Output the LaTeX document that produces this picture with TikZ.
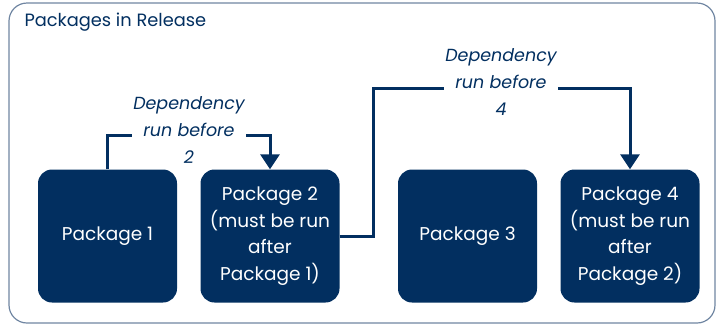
\documentclass[tikz,border=0pt]{standalone}
\usepackage{fontspec}
\setmainfont{Poppins}
\usetikzlibrary{arrows.meta}
\definecolor{hpnavy}{RGB}{2,47,96}
\definecolor{framegray}{RGB}{112,134,162}

\begin{document}
\begin{tikzpicture}[x=1pt,y=-1pt,
  pkg/.style={fill=hpnavy, rounded corners=14pt, minimum width=139pt, minimum height=133pt,
    text=white, align=center, inner sep=0pt, font=\fontsize{18.5}{26.5}\selectfont},
  dep/.style={fill=white, inner sep=1pt, align=center, text=hpnavy,
    font=\fontsize{17.5}{27}\selectfont\itshape},
  link/.style={hpnavy, line width=3pt, -{Triangle[width=19pt,length=15pt]}},
]
\useasboundingbox (0,0) rectangle (719,325);
% Moldura
\draw[framegray, line width=1.2pt, rounded corners=18pt] (9,3) rectangle (715,323);
\node[anchor=west, text=hpnavy, font=\fontsize{17.8}{20}\selectfont] (title) at (21,22) {Packages in Release};
% Pacotes
\node[pkg] (p1) at (107.5,236) {Package 1};
\node[pkg] (p2) at (270,236) {Package 2\\(must be run\\after\\Package 1)};
\node[pkg] (p3) at (467.5,236) {Package 3};
\node[pkg] (p4) at (630,236) {Package 4\\(must be run\\after\\Package 2)};
% Dependências
\coordinate (k1) at (189,135);
\coordinate (k2) at (373,88);
\draw[link] (p1.north) |- (k1) -| (p2.north);
\draw[link] (p2.east) -| (k2) -| (p4.north);
\node[dep] (d1) at (189,130) {Dependency\\run before\\2};
\node[dep] (d2) at (501,82) {Dependency\\run before\\4};
\end{tikzpicture}
\end{document}
